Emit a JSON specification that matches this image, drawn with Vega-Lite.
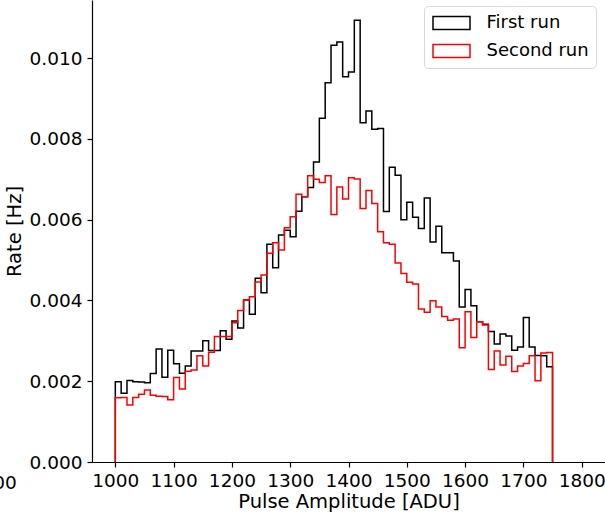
{
  "$schema": "https://vega.github.io/schema/vega-lite/v6.json",
  "width": 513,
  "height": 462,
  "autosize": {"type": "none"},
  "padding": {"left": 92, "top": 0, "right": 0, "bottom": 51},
  "background": "white",
  "config": {
    "font": "DejaVu Sans",
    "view": {"stroke": null},
    "axis": {
      "domainColor": "black",
      "domainWidth": 1.2,
      "tickColor": "black",
      "tickWidth": 1.2,
      "tickSize": 5,
      "labelFont": "DejaVu Sans",
      "labelFontSize": 18.5,
      "labelColor": "black",
      "titleFont": "DejaVu Sans",
      "titleFontSize": 19.5,
      "titleFontWeight": "normal",
      "titleColor": "black",
      "grid": false
    }
  },
  "layer": [
    {
      "data": {
        "values": [
          {"run": "First run", "edge": 1000, "rate": 0},
          {"run": "First run", "edge": 1000, "rate": 0.00199},
          {"run": "First run", "edge": 1010, "rate": 0.00170},
          {"run": "First run", "edge": 1020, "rate": 0.00202},
          {"run": "First run", "edge": 1030, "rate": 0.00199},
          {"run": "First run", "edge": 1040, "rate": 0.00198},
          {"run": "First run", "edge": 1050, "rate": 0.00196},
          {"run": "First run", "edge": 1060, "rate": 0.00219},
          {"run": "First run", "edge": 1070, "rate": 0.00280},
          {"run": "First run", "edge": 1080, "rate": 0.00210},
          {"run": "First run", "edge": 1090, "rate": 0.00277},
          {"run": "First run", "edge": 1100, "rate": 0.00243},
          {"run": "First run", "edge": 1110, "rate": 0.00220},
          {"run": "First run", "edge": 1120, "rate": 0.00238},
          {"run": "First run", "edge": 1130, "rate": 0.00275},
          {"run": "First run", "edge": 1140, "rate": 0.00275},
          {"run": "First run", "edge": 1150, "rate": 0.00300},
          {"run": "First run", "edge": 1160, "rate": 0.00276},
          {"run": "First run", "edge": 1170, "rate": 0.00276},
          {"run": "First run", "edge": 1180, "rate": 0.00325},
          {"run": "First run", "edge": 1190, "rate": 0.00304},
          {"run": "First run", "edge": 1200, "rate": 0.00349},
          {"run": "First run", "edge": 1210, "rate": 0.00332},
          {"run": "First run", "edge": 1220, "rate": 0.00401},
          {"run": "First run", "edge": 1230, "rate": 0.00366},
          {"run": "First run", "edge": 1240, "rate": 0.00455},
          {"run": "First run", "edge": 1250, "rate": 0.00419},
          {"run": "First run", "edge": 1260, "rate": 0.00539},
          {"run": "First run", "edge": 1270, "rate": 0.00481},
          {"run": "First run", "edge": 1280, "rate": 0.00562},
          {"run": "First run", "edge": 1290, "rate": 0.00574},
          {"run": "First run", "edge": 1300, "rate": 0.00558},
          {"run": "First run", "edge": 1310, "rate": 0.00621},
          {"run": "First run", "edge": 1320, "rate": 0.00657},
          {"run": "First run", "edge": 1330, "rate": 0.00680},
          {"run": "First run", "edge": 1340, "rate": 0.00743},
          {"run": "First run", "edge": 1350, "rate": 0.00851},
          {"run": "First run", "edge": 1360, "rate": 0.00939},
          {"run": "First run", "edge": 1370, "rate": 0.01032},
          {"run": "First run", "edge": 1380, "rate": 0.01040},
          {"run": "First run", "edge": 1390, "rate": 0.00954},
          {"run": "First run", "edge": 1400, "rate": 0.00966},
          {"run": "First run", "edge": 1410, "rate": 0.01094},
          {"run": "First run", "edge": 1420, "rate": 0.00840},
          {"run": "First run", "edge": 1430, "rate": 0.00869},
          {"run": "First run", "edge": 1440, "rate": 0.00824},
          {"run": "First run", "edge": 1450, "rate": 0.00826},
          {"run": "First run", "edge": 1460, "rate": 0.00620},
          {"run": "First run", "edge": 1470, "rate": 0.00730},
          {"run": "First run", "edge": 1480, "rate": 0.00710},
          {"run": "First run", "edge": 1490, "rate": 0.00600},
          {"run": "First run", "edge": 1500, "rate": 0.00643},
          {"run": "First run", "edge": 1510, "rate": 0.00606},
          {"run": "First run", "edge": 1520, "rate": 0.00578},
          {"run": "First run", "edge": 1530, "rate": 0.00654},
          {"run": "First run", "edge": 1540, "rate": 0.00545},
          {"run": "First run", "edge": 1550, "rate": 0.00584},
          {"run": "First run", "edge": 1560, "rate": 0.00518},
          {"run": "First run", "edge": 1570, "rate": 0.00518},
          {"run": "First run", "edge": 1580, "rate": 0.00498},
          {"run": "First run", "edge": 1590, "rate": 0.00384},
          {"run": "First run", "edge": 1600, "rate": 0.00427},
          {"run": "First run", "edge": 1610, "rate": 0.00387},
          {"run": "First run", "edge": 1620, "rate": 0.00347},
          {"run": "First run", "edge": 1630, "rate": 0.00341},
          {"run": "First run", "edge": 1640, "rate": 0.00323},
          {"run": "First run", "edge": 1650, "rate": 0.00292},
          {"run": "First run", "edge": 1660, "rate": 0.00317},
          {"run": "First run", "edge": 1670, "rate": 0.00312},
          {"run": "First run", "edge": 1680, "rate": 0.00277},
          {"run": "First run", "edge": 1690, "rate": 0.00285},
          {"run": "First run", "edge": 1700, "rate": 0.00358},
          {"run": "First run", "edge": 1710, "rate": 0.00285},
          {"run": "First run", "edge": 1720, "rate": 0.00264},
          {"run": "First run", "edge": 1730, "rate": 0.00263},
          {"run": "First run", "edge": 1740, "rate": 0.00236},
          {"run": "First run", "edge": 1750, "rate": 0.00236},
          {"run": "First run", "edge": 1750, "rate": 0},
          {"run": "Second run", "edge": 1000, "rate": 0},
          {"run": "Second run", "edge": 1000, "rate": 0.00159},
          {"run": "Second run", "edge": 1010, "rate": 0.00160},
          {"run": "Second run", "edge": 1020, "rate": 0.00141},
          {"run": "Second run", "edge": 1030, "rate": 0.00160},
          {"run": "Second run", "edge": 1040, "rate": 0.00168},
          {"run": "Second run", "edge": 1050, "rate": 0.00178},
          {"run": "Second run", "edge": 1060, "rate": 0.00165},
          {"run": "Second run", "edge": 1070, "rate": 0.00163},
          {"run": "Second run", "edge": 1080, "rate": 0.00162},
          {"run": "Second run", "edge": 1090, "rate": 0.00154},
          {"run": "Second run", "edge": 1100, "rate": 0.00209},
          {"run": "Second run", "edge": 1110, "rate": 0.00181},
          {"run": "Second run", "edge": 1120, "rate": 0.00225},
          {"run": "Second run", "edge": 1130, "rate": 0.00228},
          {"run": "Second run", "edge": 1140, "rate": 0.00263},
          {"run": "Second run", "edge": 1150, "rate": 0.00238},
          {"run": "Second run", "edge": 1160, "rate": 0.00272},
          {"run": "Second run", "edge": 1170, "rate": 0.00311},
          {"run": "Second run", "edge": 1180, "rate": 0.00311},
          {"run": "Second run", "edge": 1190, "rate": 0.00311},
          {"run": "Second run", "edge": 1200, "rate": 0.00345},
          {"run": "Second run", "edge": 1210, "rate": 0.00375},
          {"run": "Second run", "edge": 1220, "rate": 0.00401},
          {"run": "Second run", "edge": 1230, "rate": 0.00409},
          {"run": "Second run", "edge": 1240, "rate": 0.00446},
          {"run": "Second run", "edge": 1250, "rate": 0.00463},
          {"run": "Second run", "edge": 1260, "rate": 0.00517},
          {"run": "Second run", "edge": 1270, "rate": 0.00543},
          {"run": "Second run", "edge": 1280, "rate": 0.00525},
          {"run": "Second run", "edge": 1290, "rate": 0.00580},
          {"run": "Second run", "edge": 1300, "rate": 0.00607},
          {"run": "Second run", "edge": 1310, "rate": 0.00663},
          {"run": "Second run", "edge": 1320, "rate": 0.00657},
          {"run": "Second run", "edge": 1330, "rate": 0.00709},
          {"run": "Second run", "edge": 1340, "rate": 0.00700},
          {"run": "Second run", "edge": 1350, "rate": 0.00692},
          {"run": "Second run", "edge": 1360, "rate": 0.00709},
          {"run": "Second run", "edge": 1370, "rate": 0.00613},
          {"run": "Second run", "edge": 1380, "rate": 0.00681},
          {"run": "Second run", "edge": 1390, "rate": 0.00651},
          {"run": "Second run", "edge": 1400, "rate": 0.00704},
          {"run": "Second run", "edge": 1410, "rate": 0.00701},
          {"run": "Second run", "edge": 1420, "rate": 0.00628},
          {"run": "Second run", "edge": 1430, "rate": 0.00672},
          {"run": "Second run", "edge": 1440, "rate": 0.00640},
          {"run": "Second run", "edge": 1450, "rate": 0.00570},
          {"run": "Second run", "edge": 1460, "rate": 0.00543},
          {"run": "Second run", "edge": 1470, "rate": 0.00539},
          {"run": "Second run", "edge": 1480, "rate": 0.00493},
          {"run": "Second run", "edge": 1490, "rate": 0.00467},
          {"run": "Second run", "edge": 1500, "rate": 0.00445},
          {"run": "Second run", "edge": 1510, "rate": 0.00441},
          {"run": "Second run", "edge": 1520, "rate": 0.00379},
          {"run": "Second run", "edge": 1530, "rate": 0.00371},
          {"run": "Second run", "edge": 1540, "rate": 0.00399},
          {"run": "Second run", "edge": 1550, "rate": 0.00384},
          {"run": "Second run", "edge": 1560, "rate": 0.00360},
          {"run": "Second run", "edge": 1570, "rate": 0.00351},
          {"run": "Second run", "edge": 1580, "rate": 0.00354},
          {"run": "Second run", "edge": 1590, "rate": 0.00283},
          {"run": "Second run", "edge": 1600, "rate": 0.00372},
          {"run": "Second run", "edge": 1610, "rate": 0.00308},
          {"run": "Second run", "edge": 1620, "rate": 0.00347},
          {"run": "Second run", "edge": 1630, "rate": 0.00339},
          {"run": "Second run", "edge": 1640, "rate": 0.00229},
          {"run": "Second run", "edge": 1650, "rate": 0.00275},
          {"run": "Second run", "edge": 1660, "rate": 0.00240},
          {"run": "Second run", "edge": 1670, "rate": 0.00262},
          {"run": "Second run", "edge": 1680, "rate": 0.00224},
          {"run": "Second run", "edge": 1690, "rate": 0.00238},
          {"run": "Second run", "edge": 1700, "rate": 0.00244},
          {"run": "Second run", "edge": 1710, "rate": 0.00263},
          {"run": "Second run", "edge": 1720, "rate": 0.00201},
          {"run": "Second run", "edge": 1730, "rate": 0.00270},
          {"run": "Second run", "edge": 1740, "rate": 0.00271},
          {"run": "Second run", "edge": 1750, "rate": 0.00271},
          {"run": "Second run", "edge": 1750, "rate": 0}
        ]
      },
      "mark": {"type": "line", "interpolate": "step-after", "strokeWidth": 1.5, "clip": false},
      "encoding": {
        "x": {
          "field": "edge",
          "type": "quantitative",
          "scale": {"domain": [960, 1840], "nice": false, "zero": false},
          "axis": {
            "title": "Pulse Amplitude [ADU]",
            "values": [1000, 1100, 1200, 1300, 1400, 1500, 1600, 1700, 1800],
            "format": "d",
            "labelPadding": 4,
            "titlePadding": 3
          }
        },
        "y": {
          "field": "rate",
          "type": "quantitative",
          "scale": {"domain": [0, 0.01144], "nice": false},
          "axis": {
            "title": "Rate [Hz]",
            "values": [0, 0.002, 0.004, 0.006, 0.008, 0.010],
            "format": ".3f",
            "labelPadding": 5,
            "titlePadding": 5
          }
        },
        "color": {
          "field": "run",
          "type": "nominal",
          "scale": {"domain": ["First run", "Second run"], "range": ["#000000", "#ff0000"]},
          "legend": {
            "title": null,
            "orient": "none",
            "legendX": 332,
            "legendY": 6,
            "symbolType": "M-2,-0.7H2V0.7H-2Z",
            "symbolSize": 342.25,
            "symbolOffset": 10.5,
            "symbolFillColor": "transparent",
            "symbolStrokeWidth": 1.5,
            "labelFont": "DejaVu Sans",
            "labelFontSize": 18,
            "labelColor": "black",
            "labelOffset": 25,
            "labelLimit": 300,
            "padding": 7,
            "rowPadding": 8,
            "fillColor": "white",
            "strokeColor": "#d9d9d9",
            "cornerRadius": 4
          }
        }
      }
    },
    {
      "data": {"values": [{"label": "00", "px": 831, "py": -0.00052}]},
      "mark": {"type": "text", "align": "right", "baseline": "middle", "fontSize": 18.5, "font": "DejaVu Sans", "color": "black", "clip": false},
      "encoding": {
        "x": {"field": "px", "type": "quantitative"},
        "y": {"field": "py", "type": "quantitative"},
        "text": {"field": "label"}
      }
    }
  ]
}
